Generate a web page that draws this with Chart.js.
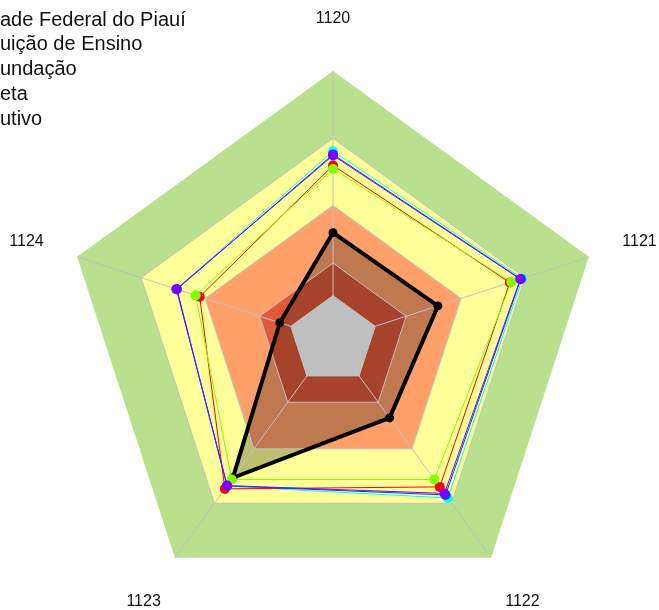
<!DOCTYPE html>
<html>
<head>
<meta charset="utf-8">
<script src="https://cdn.jsdelivr.net/npm/chart.js@4.4.1/dist/chart.umd.min.js"></script>
<style>
html, body { margin: 0; padding: 0; background: #fff; overflow: hidden; }
#wrap { position: relative; width: 659px; height: 610px; overflow: hidden; }
#c { position: absolute; left: 0; top: 0; }
#legend { position: absolute; left: 0; top: 0; width: 659px; height: 160px; font-family: "Liberation Sans", Arial, sans-serif; font-size: 20px; color: #111; pointer-events: none; }
.item { position: absolute; white-space: nowrap; line-height: 25px; height: 25px; }
</style>
</head>
<body>
<div id="wrap">
  <canvas id="c" width="659" height="610"></canvas>
  <div id="legend"></div>
</div>
<script>
// ---- data ----
const categories = ['1120', '1121', '1122', '1123', '1124'];

const legendNames   = ['Universidade Federal do Piauí', 'Instituição de Ensino', 'Fundação', 'Meta', 'Executivo'];
const legendVisible = ['ade Federal do Piauí', 'uição de Ensino', 'undação', 'eta', 'utivo'];

// background bands (outer limit of each band)
const bandGreen   = [100, 100, 100, 100, 100];
const bandYellow  = [75, 75, 75, 75, 75];
const bandOrange  = [50, 50, 50, 50, 50];
const bandDarkRed = [28.6, 28.6, 28.6, 28.6, 28.6];
const bandCenter  = [16.5, 16.5, 16.5, 16.5, 16.5];
const gridTicks   = [0, 16.5, 28.6, 50, 75];

// series
const cyanValues   = [70.2, 74.0, 72.6, 67.2, 61.2];
const blueValues   = [69.0, 73.4, 71.2, 67.0, 61.0];
const purpleValues = [68.6, 73.2, 70.5, 66.9, 61.2];
const redValues    = [64.9, 69.1, 67.5, 68.4, 52.1];
const greenValues  = [63.6, 69.7, 64.1, 64.1, 53.7];
const blackValues  = [39.9, 41.0, 35.8, 63.3, 20.8];

// ---- legend (html text, left part falls outside the page) ----
const legendEl = document.getElementById('legend');
legendNames.forEach((name, i) => {
  const vis = legendVisible[i];
  const pre = name.slice(0, name.length - vis.length);
  const div = document.createElement('div');
  div.className = 'item';
  const sp = document.createElement('span');
  sp.textContent = pre;
  div.appendChild(sp);
  div.appendChild(document.createTextNode(vis));
  div.style.top = (6.5 + i * 24.8) + 'px';
  legendEl.appendChild(div);
  div.style.left = (-sp.getBoundingClientRect().width) + 'px';
});

// ---- chart ----
function band(data, color, order) {
  return {
    label: '', data: data, order: order,
    fill: 'origin', backgroundColor: color,
    borderColor: 'rgba(0,0,0,0)', borderWidth: 0,
    pointRadius: 0, pointHoverRadius: 0
  };
}
function series(label, data, color, order) {
  return {
    label: label, data: data, order: order,
    fill: false, borderColor: color, borderWidth: 1,
    backgroundColor: color,
    pointRadius: 5, pointBackgroundColor: color, pointBorderColor: color, pointBorderWidth: 0,
    tension: 0
  };
}

const axisLabels = {
  id: 'axisLabels',
  afterDraw(chart) {
    const s = chart.scales.r;
    const ctx = chart.ctx;
    ctx.save();
    ctx.font = '16px "Liberation Sans", Arial, sans-serif';
    ctx.fillStyle = '#111';
    ctx.textAlign = 'center';
    ctx.textBaseline = 'middle';
    categories.forEach((c, i) => {
      const p = s.getPointPosition(i, s.drawingArea * 1.198);
      ctx.fillText(c, p.x, p.y + 1);
    });
    ctx.restore();
  }
};

new Chart(document.getElementById('c'), {
  type: 'radar',
  data: {
    labels: categories,
    datasets: [
      series(legendNames[0], purpleValues, '#8000FF', 1),
      series(legendNames[1], greenValues, '#80FF00', 2),
      series(legendNames[2], blueValues, '#0040FF', 3),
      series(legendNames[3], redValues, '#FF0000', 4),
      series(legendNames[4], cyanValues, '#00FFFF', 5),
      {
        label: '', data: blackValues, order: 6,
        fill: 'origin', backgroundColor: 'rgba(0,0,0,0.25)',
        borderColor: '#000', borderWidth: 4,
        pointRadius: 4.5, pointBackgroundColor: '#000', pointBorderColor: '#000', pointBorderWidth: 0,
        tension: 0
      },
      band(bandCenter, '#FFFFFF', 7),
      band(bandDarkRed, '#E05A3A', 8),
      band(bandOrange, '#FFA06B', 9),
      band(bandYellow, '#FFFF99', 10),
      band(bandGreen, '#B9E08D', 11)
    ]
  },
  options: {
    responsive: false,
    animation: false,
    devicePixelRatio: 1,
    events: [],
    layout: { padding: { left: 64, top: 71, right: 57, bottom: 1 } },
    plugins: {
      legend: { display: false },
      tooltip: { enabled: false },
      filler: { drawTime: 'beforeDraw', propagate: false }
    },
    elements: { line: { tension: 0 } },
    scales: {
      r: {
        min: 0, max: 100,
        afterBuildTicks(scale) { scale.ticks = gridTicks.map(v => ({ value: v })); },
        ticks: { display: false },
        pointLabels: { display: false },
        grid: { color: '#C1C1C1', lineWidth: 1 },
        angleLines: { color: '#C1C1C1', lineWidth: 1 }
      }
    }
  },
  plugins: [axisLabels]
});
</script>
</body>
</html>
